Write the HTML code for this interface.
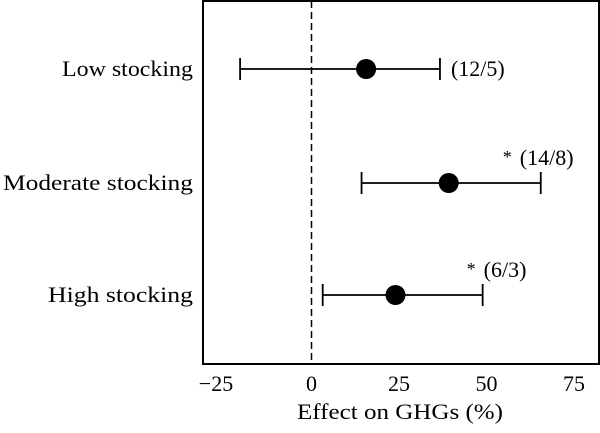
<!DOCTYPE html>
<html><head><meta charset="utf-8"><style>body{margin:0;background:#fff}svg{display:block;font-family:"Liberation Serif",serif}</style></head>
<body>
<svg width="600" height="433">
<g id="g"></g>
</svg>
<script>
const categories=["Low stocking","Moderate stocking","High stocking"];
const means=[15.6,39.2,24];
const lowers=[-20.4,14.3,3.2];
const uppers=[36.7,65.5,48.9];
const counts=["(12/5)","(14/8)","(6/3)"];
const stars=["","*","*"];
const ticks=[-25,0,25,50,75];
const tickLabels=["−25","0","25","50","75"];
const L=203,R=599,T=1,B=364;
const x=v=>311.5+v*3.5;
const rows=[69,183,295];
const y=i=>rows[i];
const labelW=[131,190,145];
const g=document.getElementById('g');
const NS='http://www.w3.org/2000/svg';
function mk(t,a,txt){const e=document.createElementNS(NS,t);for(const k in a)e.setAttribute(k,a[k]);if(txt!==undefined)e.textContent=txt;g.appendChild(e);return e;}
let e=mk('rect',{x:L,y:T,width:R-L,height:B-T,fill:'none',stroke:'#000','stroke-width':2});

e=mk('line',{x1:x(0),x2:x(0),y1:T,y2:B,stroke:'#000','stroke-width':1.5,'stroke-dasharray':'7,4'});

ticks.forEach((t,i)=>{
  const el=mk('text',{x:x(t)-(t<0?8:0),y:391,'text-anchor':'middle','font-size':22},tickLabels[i]);
  
  
});
e=mk('text',{x:400,y:419,'text-anchor':'middle','font-size':22,textLength:206,lengthAdjust:'spacingAndGlyphs'},'Effect on GHGs (%)');

categories.forEach((c,i)=>{
  const yy=y(i);
  let el=mk('text',{x:193,y:yy+7,'text-anchor':'end','font-size':22,textLength:labelW[i],lengthAdjust:'spacingAndGlyphs'},c);
  
  
  el=mk('line',{x1:x(lowers[i]),x2:x(uppers[i]),y1:yy,y2:yy,stroke:'#000','stroke-width':1.8});
  
  
  [lowers[i],uppers[i]].forEach(v=>{
    const c2=mk('line',{x1:x(v),x2:x(v),y1:yy-11,y2:yy+11,stroke:'#000','stroke-width':1.8});
    
    
  });
  el=mk('circle',{cx:x(means[i]),cy:yy,r:10,fill:'#000'});
  
  
  const lx=x(uppers[i])+11;
  if(stars[i]){
    const sx=Math.min(lx,x(uppers[i])-38);
    el=mk('text',{x:sx+(i===2?22:0),y:yy-20,'font-size':18},stars[i]);
    
    
    el=mk('text',{x:sx+(i===2?22:0)+17,y:yy-18,'font-size':22},counts[i]);
  } else {
    el=mk('text',{x:lx,y:yy+7,'font-size':22},counts[i]);
  }
  
  
});
</script>
</body></html>
